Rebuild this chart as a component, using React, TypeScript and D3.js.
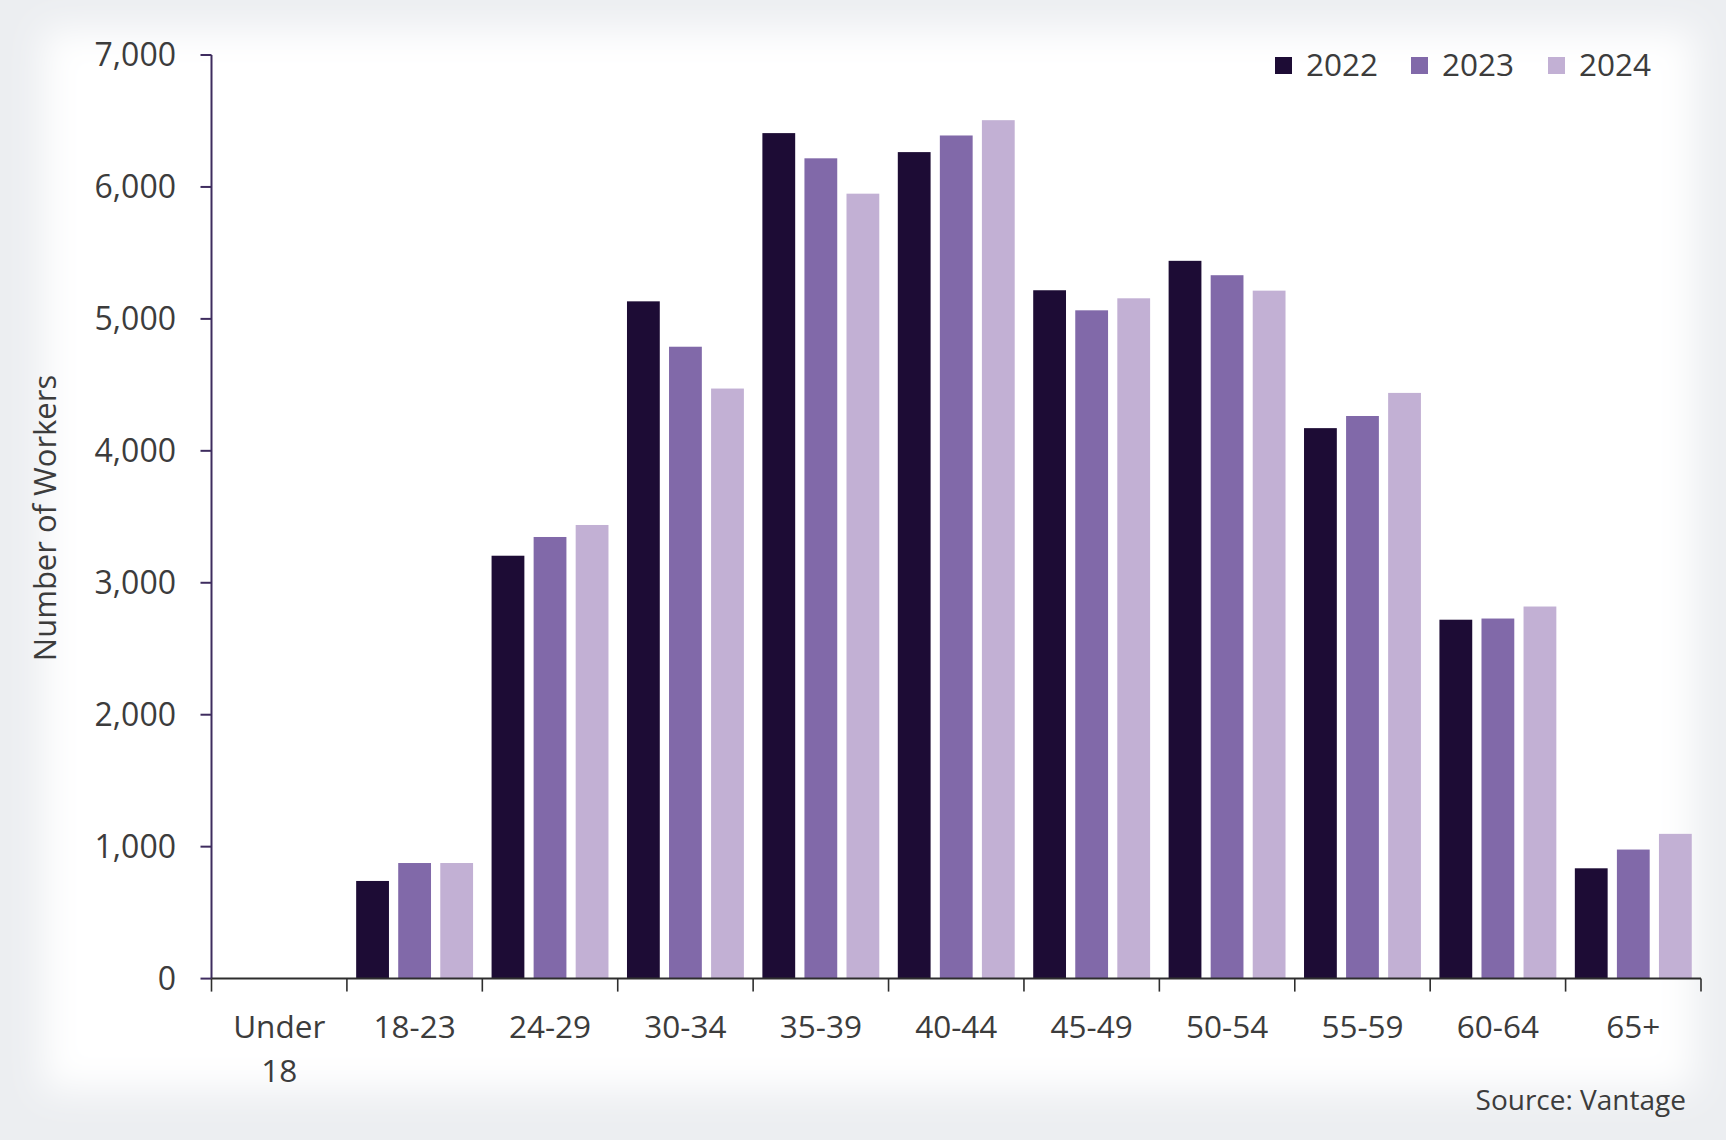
import React, { useEffect } from "react";
import * as d3 from "d3";

const categories = ["Under 18", "18-23", "24-29", "30-34", "35-39", "40-44", "45-49", "50-54", "55-59", "60-64", "65+"];
const seriesNames = ["2022", "2023", "2024"];
const values2022 = [0, 740, 3205, 5133, 6408, 6264, 5217, 5440, 4172, 2720, 836];
const values2023 = [0, 876, 3347, 4789, 6217, 6390, 5065, 5331, 4264, 2729, 978];
const values2024 = [0, 876, 3438, 4472, 5949, 6506, 5156, 5214, 4439, 2820, 1097];
const yTicks = [0, 1000, 2000, 3000, 4000, 5000, 6000, 7000];
const colors = ["#1d0c35", "#8169a9", "#c2b0d4"];

const W = 1726;
const H = 1140;
const FONT = "'Open Sans', 'Noto Sans', sans-serif";
const TEXT = "#3c3c3c";

export default function App() {
  useEffect(() => {
    document.body.style.margin = "0";
  }, []);

  const left = 211.5;
  const right = 1701;
  const top = 55;
  const bottom = 978.6;

  const y = d3.scaleLinear().domain([0, 7000]).range([bottom, top]);
  const x0 = d3.scaleBand<string>().domain(categories).range([left, right]).padding(0);
  const x1 = d3
    .scaleBand<string>()
    .domain(seriesNames)
    .range([0, x0.bandwidth()])
    .paddingInner(0.22)
    .paddingOuter(0.22);
  const series = [values2022, values2023, values2024];
  const fmt = d3.format(",");

  const boundaries = categories.map((c) => x0(c) as number).concat([right]);

  const legendX = [1275, 1411, 1548];

  return (
    <svg width={W} height={H} style={{ position: "absolute", left: 0, top: 0, display: "block" }}>
      <defs>
        <filter id="soft" x="-10%" y="-10%" width="120%" height="120%">
          <feGaussianBlur stdDeviation="18" />
        </filter>
      </defs>
      <rect x={0} y={0} width={W} height={H} fill="#eceef1" />
      <rect x={44} y={30} width={W - 76} height={H - 80} fill="#ffffff" filter="url(#soft)" />

      {/* bars */}
      {series.map((vals, si) => (
        <g key={seriesNames[si]}>
          {categories.map((c, ci) =>
            vals[ci] > 0 ? (
              <rect
                key={c}
                x={(x0(c) as number) + (x1(seriesNames[si]) as number)}
                y={y(vals[ci])}
                width={x1.bandwidth()}
                height={bottom - y(vals[ci])}
                fill={colors[si]}
              />
            ) : null
          )}
        </g>
      ))}

      {/* y axis */}
      <line x1={left} x2={left} y1={top} y2={bottom} stroke="#3e2c5f" strokeWidth={2} />
      {yTicks.map((t) => (
        <g key={t}>
          <line x1={left - 11} x2={left} y1={y(t)} y2={y(t)} stroke="#3e2c5f" strokeWidth={2} />
          <text
            x={176}
            y={y(t)}
            dy="0.35em"
            textAnchor="end"
            fontFamily={FONT}
            fontSize={32}
            fill={TEXT}
          >
            {fmt(t)}
          </text>
        </g>
      ))}

      {/* x axis */}
      <line x1={left} x2={right} y1={bottom} y2={bottom} stroke="#2e2e2e" strokeWidth={2} />
      {boundaries.map((b, i) => (
        <line key={i} x1={b} x2={b} y1={bottom} y2={bottom + 13} stroke="#2e2e2e" strokeWidth={1.6} />
      ))}
      {categories.map((c) => {
        const cx = (x0(c) as number) + x0.bandwidth() / 2;
        const parts = c === "Under 18" ? ["Under", "18"] : [c];
        return (
          <text key={c} x={cx} y={1027} textAnchor="middle" fontFamily={FONT} fontSize={31.5} fill={TEXT}>
            {parts.map((p, i) => (
              <tspan key={i} x={cx} dy={i === 0 ? "0.35em" : 44}>
                {p}
              </tspan>
            ))}
          </text>
        );
      })}

      {/* y title */}
      <text
        transform={`translate(45, ${518}) rotate(-90)`}
        textAnchor="middle"
        dy="0.35em"
        fontFamily={FONT}
        fontSize={31}
        fill={TEXT}
      >
        Number of Workers
      </text>

      {/* legend */}
      {seriesNames.map((s, i) => (
        <g key={s}>
          <rect x={legendX[i]} y={57} width={17} height={17} fill={colors[i]} />
          <text x={legendX[i] + 31} y={65} dy="0.35em" fontFamily={FONT} fontSize={31.5} fill={TEXT}>
            {s}
          </text>
        </g>
      ))}

      {/* source */}
      <text x={1686} y={1100} dy="0.35em" textAnchor="end" fontFamily={FONT} fontSize={28} fill={TEXT}>
        Source: Vantage
      </text>
    </svg>
  );
}
